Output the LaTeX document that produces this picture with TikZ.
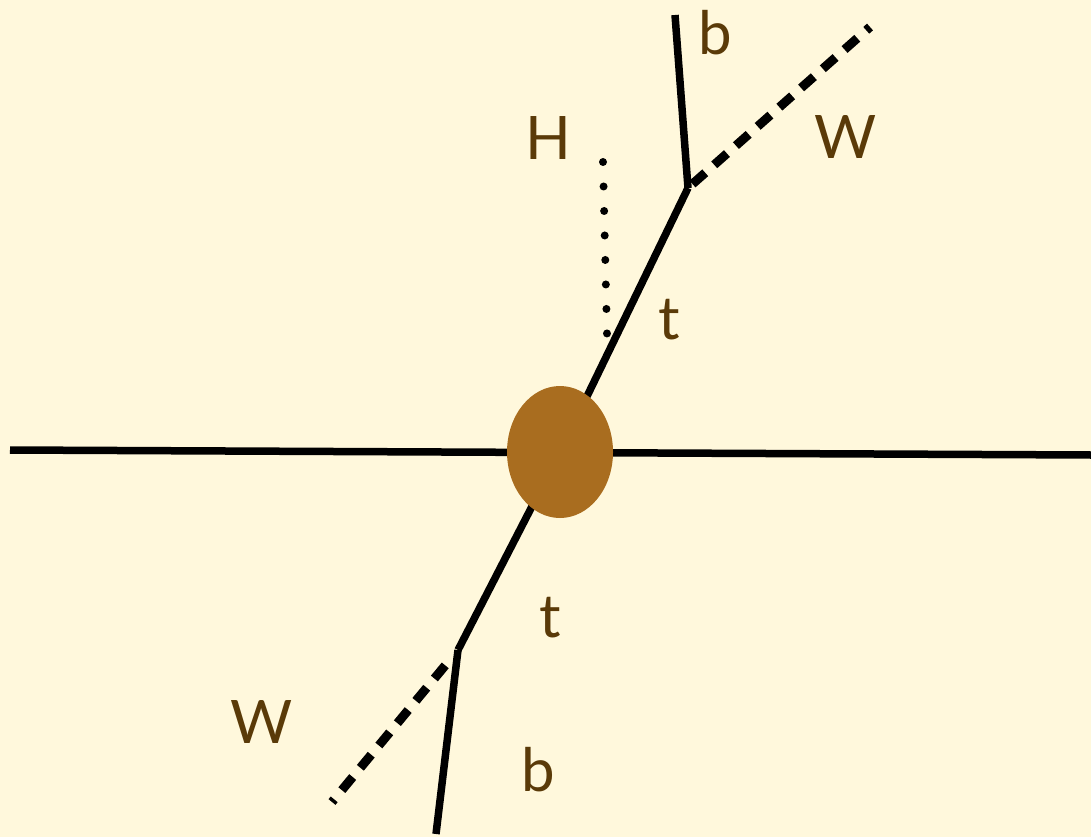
\documentclass[tikz,border=0pt]{standalone}
\usepackage{fontspec}
\setmainfont{Lato}
\usetikzlibrary{shapes.geometric,calc}
\definecolor{bgcol}{HTML}{FFF8DC}
\definecolor{blobcol}{HTML}{A96D1F}
\definecolor{labcol}{HTML}{5A3A08}
\begin{document}
\begin{tikzpicture}[x=1pt,y=-1pt,
  solidline/.style={line width=7.5pt},
  wline/.style={line width=9pt,dash pattern=on 17pt off 12pt},
  hline/.style={line width=8pt,line cap=round,dash pattern=on 0pt off 24.5pt},
  lab/.style={text=labcol,font=\fontsize{60}{72}\selectfont,inner sep=0pt}]
\fill[bgcol] (0,0) rectangle (1091,837);
\useasboundingbox (0,0) rectangle (1091,837);
% coordinates
\coordinate (hl) at (10,450);
\coordinate (hr) at (1091,455);
\coordinate (c) at (560,452);
\coordinate (tv) at (688,188);
\coordinate (tb) at (675,15);
\coordinate (tw) at (870,27);
\coordinate (hs) at (603,162);
\coordinate (he) at (607,334);
\coordinate (bv) at (458,650);
\coordinate (bb) at (436,834);
\coordinate (bw) at (332,802);
% lines
\draw[solidline] (hl) -- (hr);
\draw[solidline] (c) -- (tv);
\draw[solidline] (c) -- (bv);
\draw[solidline] (tv) -- (tb);
\draw[solidline] (bv) -- (bb);
\draw[wline] ($(tv)!6pt!(tw)$) -- (tw);
\draw[wline] ($(bv)!20pt!(bw)$) -- (bw);
\draw[hline] (hs) -- (he);
% blob
\node[ellipse,fill=blobcol,minimum width=106pt,minimum height=132pt,inner sep=0pt] (blob) at (c) {};
% labels
\node[lab] (lb1) at (715,33) {b};
\node[lab] (lw1) at (846,137) {W};
\node[lab] (lh) at (548,138) {H};
\node[lab] (lt1) at (669,320) {t};
\node[lab] (lt2) at (550,618) {t};
\node[lab] (lw2) at (262,722) {W};
\node[lab] (lb2) at (538,770) {b};
\end{tikzpicture}
\end{document}
